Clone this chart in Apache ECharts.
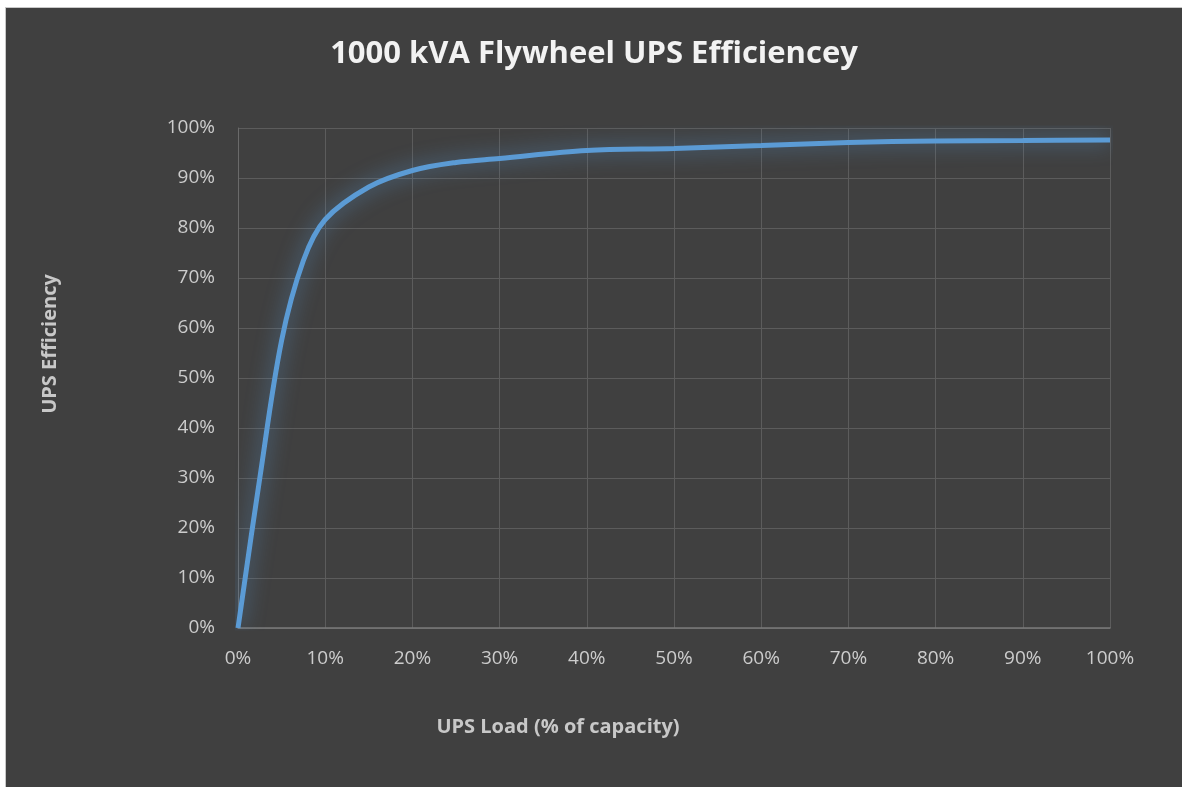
<!DOCTYPE html>
<html>
<head>
<meta charset="utf-8">
<script src="https://cdn.jsdelivr.net/npm/echarts@6/dist/echarts.min.js"></script>
<style>
  html, body { margin: 0; padding: 0; background: #ffffff; width: 1182px; height: 787px; overflow: hidden; }
  #frame { position: absolute; left: 5px; top: 7px; width: 1177px; height: 780px; background: #c8c8c8; }
  #chart { position: absolute; left: 6px; top: 8px; width: 1176px; height: 779px; }
</style>
</head>
<body>
<div id="frame"></div>
<div id="chart"></div>
<script>
const titleText = '1000 kVA Flywheel UPS Efficiencey';
const xAxisTitle = 'UPS Load (% of capacity)';
const yAxisTitle = 'UPS Efficiency';
const loadPct = [0, 2.5, 5, 7.5, 10, 15, 20, 25, 30, 40, 50, 60, 70, 80, 90, 100];
const efficiencyPct = [0, 30, 57.5, 73.5, 81.7, 88.2, 91.5, 93.1, 93.9, 95.5, 95.9, 96.5, 97.1, 97.4, 97.5, 97.6];

const seriesData = loadPct.map((x, i) => [x, efficiencyPct[i]]);
const font = '"Open Sans", "Noto Sans", sans-serif';

const chart = echarts.init(document.getElementById('chart'), null, { renderer: 'canvas' });
chart.setOption({
  backgroundColor: '#404040',
  animation: false,
  title: {
    text: titleText,
    left: 'center',
    top: 26,
    textStyle: { color: '#f2f2f2', fontSize: 31, fontWeight: 'bold', fontFamily: font }
  },
  grid: { left: 232, right: 72, top: 120, bottom: 159, containLabel: false },
  xAxis: {
    type: 'value',
    min: 0, max: 100, interval: 10,
    axisLine: { show: true, lineStyle: { color: '#7a7a7a', width: 1.5 } },
    axisTick: { show: false },
    splitLine: { show: true, lineStyle: { color: '#5c5c5c', width: 1 } },
    axisLabel: { color: '#cccccc', fontSize: 19, fontFamily: font, margin: 21, formatter: '{value}%' }
  },
  yAxis: {
    type: 'value',
    min: 0, max: 100, interval: 10,
    axisLine: { show: true, lineStyle: { color: '#6a6a6a', width: 1 } },
    axisTick: { show: false },
    splitLine: { show: true, lineStyle: { color: '#5c5c5c', width: 1 } },
    axisLabel: { color: '#cccccc', fontSize: 19, fontFamily: font, margin: 23, formatter: '{value}%' }
  },
  graphic: [
    {
      type: 'text', x: 558 - 6, y: 727 - 8,
      style: { text: xAxisTitle, fill: '#c8c8c8', font: 'bold 20px ' + font, textAlign: 'center', textVerticalAlign: 'middle' }
    },
    {
      type: 'text', x: 50 - 6, y: 344 - 8, rotation: Math.PI / 2,
      style: { text: yAxisTitle, fill: '#c8c8c8', font: 'bold 20px ' + font, textAlign: 'center', textVerticalAlign: 'middle' }
    }
  ],
  series: [{
    type: 'line',
    data: seriesData,
    smooth: 0.35,
    showSymbol: false,
    lineStyle: { color: '#5b9bd5', width: 5, shadowColor: 'rgba(91,155,213,0.75)', shadowBlur: 20 },
    itemStyle: { color: '#5b9bd5' }
  }]
});
</script>
</body>
</html>
